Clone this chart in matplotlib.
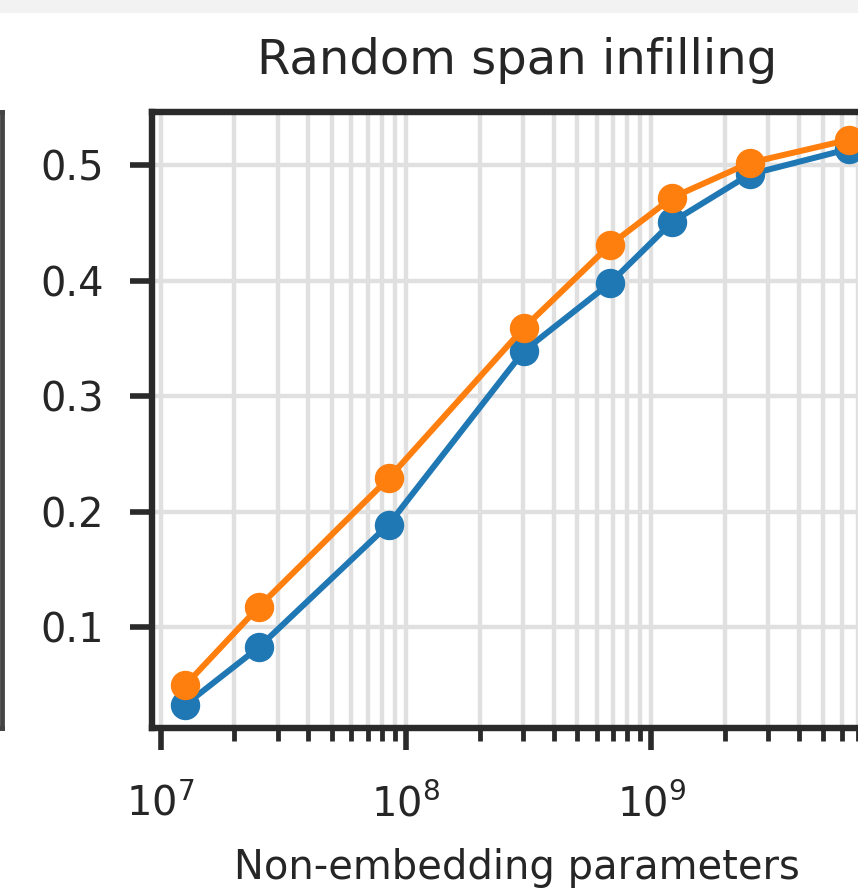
import matplotlib
matplotlib.use('Agg')
import matplotlib.pyplot as plt
from matplotlib.patches import Rectangle

params = [1.26e7, 2.52e7, 8.5e7, 3.02e8, 6.8e8, 1.22e9, 2.52e9, 6.4e9]
pass_base = [0.033, 0.083, 0.189, 0.339, 0.398, 0.451, 0.492, 0.514]
pass_fim = [0.050, 0.118, 0.229, 0.359, 0.431, 0.472, 0.502, 0.522]

s = 2.88  # everything scaled up from a 10pt layout
plt.rcParams['font.family'] = 'DejaVu Sans'
plt.rcParams['font.size'] = 10 * s

fig = plt.figure(figsize=(8.58, 8.91), dpi=100)
fig.patches.append(Rectangle((0, 1 - 13 / 891), 1, 13 / 891, transform=fig.transFigure,
                             facecolor='#f2f2f2', edgecolor='none', zorder=0))

# neighbouring panel, only its right edge shows
ax0 = fig.add_axes([-0.5, 163 / 891, 0.5 + 2 / 858, 616 / 891])
ax0.set_xticks([])
ax0.set_yticks([])
for sp in ax0.spines.values():
    sp.set_linewidth(1.2 * s)
    sp.set_color('#444444')

ax = fig.add_axes([152 / 858, 163 / 891, 730 / 858, 616 / 891])
ax.plot(params, pass_base, color='#1f77b4', marker='o', lw=1.5 * s, ms=7 * s, zorder=3)
ax.plot(params, pass_fim, color='#ff7f0e', marker='o', lw=1.5 * s, ms=7 * s, zorder=3)
ax.set_xscale('log')
ax.set_xlim(10 ** 6.965, 10 ** 9.941)
ax.set_ylim(0.013, 0.546)
ax.set_yticks([0.1, 0.2, 0.3, 0.4, 0.5])

ax.grid(which='major', color='#e0e0e0', lw=1.1 * s)
ax.grid(which='minor', axis='x', color='#e0e0e0', lw=1.1 * s)
ax.set_axisbelow(True)
for sp in ax.spines.values():
    sp.set_linewidth(1.6 * s)
    sp.set_color('#2a2a2a')
ax.tick_params(which='major', length=5.5 * s, width=1.4 * s, color='#2a2a2a',
               labelcolor='#262626')
ax.tick_params(axis='y', pad=6.5 * s)
ax.tick_params(axis='x', pad=8.5 * s)
ax.tick_params(which='minor', length=3.2 * s, width=1.2 * s, color='#2a2a2a')
ax.tick_params(axis='y', which='minor', length=0)

ax.set_title('Random span infilling', fontsize=12 * s, pad=9.5 * s, color='#262626')
ax.set_xlabel('Non-embedding parameters', labelpad=5.8 * s, color='#262626')

fig.savefig('out.png', dpi=100)
